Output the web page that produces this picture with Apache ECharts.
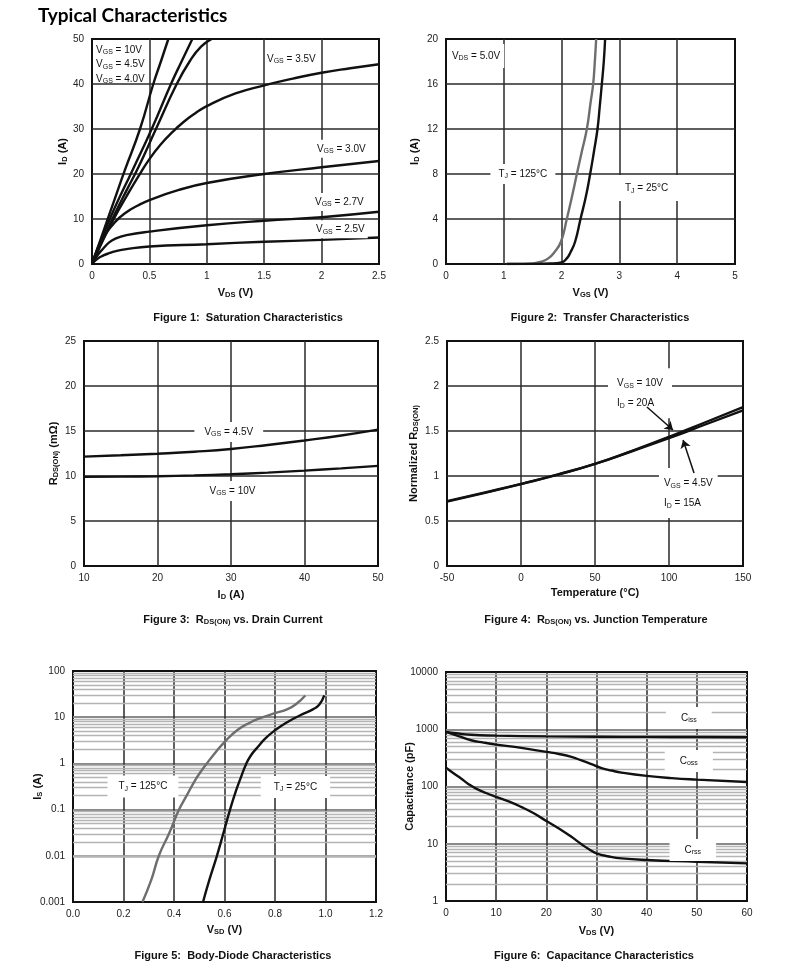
<!DOCTYPE html>
<html>
<head>
<meta charset="utf-8">
<title>Typical Characteristics</title>
<script src="https://cdn.jsdelivr.net/npm/echarts@6/dist/echarts.min.js"></script>
<style>
  html, body { margin: 0; padding: 0; background: #fff; }
  #main { width: 790px; height: 977px; }
</style>
</head>
<body>
<div id="main"></div>
<script>
// ---- Figure 1: saturation characteristics, [VDS (V), ID (A)]
const sat10V = [[0, 0], [0.1, 7.3], [0.2, 14.6], [0.287, 20.9], [0.418, 30], [0.534, 40], [0.6, 45], [0.665, 50]];
const sat45V = [[0, 0], [0.1, 6.6], [0.2, 12.6], [0.354, 20.9], [0.52, 30], [0.688, 40], [0.78, 45], [0.874, 50]];
const sat40V = [[0, 0], [0.1, 5.7], [0.2, 11.2], [0.3, 16.3], [0.404, 21.5], [0.557, 30], [0.738, 40], [0.85, 45], [0.95, 48.3], [1.043, 50]];
const sat35V = [[0, 0], [0.1, 5.5], [0.2, 10.5], [0.3, 15], [0.4, 19.3], [0.5, 23.3], [0.6, 26.6], [0.7, 29.3], [0.8, 31.6], [0.9, 33.5], [1, 35.1], [1.25, 37.9], [1.5, 39.7], [1.75, 41.2], [2, 42.5], [2.25, 43.5], [2.5, 44.4]];
const sat30V = [[0, 0], [0.05, 3.5], [0.1, 6], [0.2, 9.3], [0.3, 11.5], [0.4, 13], [0.5, 14.2], [0.75, 16.4], [1, 18], [1.5, 20], [2, 21.5], [2.5, 22.9]];
const sat27V = [[0, 0], [0.05, 2], [0.1, 3.5], [0.15, 4.8], [0.2, 5.6], [0.3, 6.4], [0.5, 7.2], [1, 8.6], [1.5, 9.6], [2, 10.4], [2.5, 11.6]];
const sat25V = [[0, 0], [0.05, 1.2], [0.1, 1.9], [0.15, 2.4], [0.2, 2.8], [0.3, 3.3], [0.5, 3.9], [1, 4.4], [1.5, 4.95], [2, 5.35], [2.5, 5.9]];

// ---- Figure 2: transfer characteristics, [VGS (V), ID (A)]
const trans125 = [[1.05, 0], [1.3, 0.01], [1.5, 0.06], [1.65, 0.2], [1.77, 0.5], [1.87, 1], [1.99, 2], [2.09, 4], [2.18, 6], [2.264, 8], [2.35, 10], [2.437, 12], [2.5, 14.3], [2.546, 16], [2.575, 18], [2.598, 20]];
const trans25 = [[1.05, 0], [1.5, 0.01], [1.8, 0.04], [2.0, 0.15], [2.09, 0.5], [2.15, 1], [2.235, 2], [2.327, 4], [2.42, 6], [2.494, 8], [2.56, 10], [2.621, 12], [2.66, 14], [2.696, 16], [2.73, 18], [2.753, 20]];

// ---- Figure 3: RDS(ON) vs drain current, [ID (A), mOhm]
const rds45V = [[10, 12.15], [15, 12.3], [20, 12.48], [25, 12.7], [30, 13.0], [35, 13.45], [40, 13.95], [45, 14.5], [50, 15.15]];
const rds10V = [[10, 9.9], [15, 9.93], [20, 9.98], [25, 10.07], [30, 10.2], [35, 10.38], [40, 10.6], [45, 10.85], [50, 11.12]];

// ---- Figure 4: normalized RDS(ON) vs temperature, [degC, ratio]
const norm10V = [[-50, 0.715], [-25, 0.81], [0, 0.91], [25, 1.015], [50, 1.135], [75, 1.28], [100, 1.435], [125, 1.6], [150, 1.765]];
const norm45V = [[-50, 0.72], [-25, 0.815], [0, 0.912], [25, 1.018], [50, 1.135], [75, 1.275], [100, 1.42], [125, 1.575], [150, 1.73]];

// ---- Figure 5: body diode, [VSD (V), IS (A)]
const diode125 = [[0.275, 0.001], [0.31, 0.003], [0.34, 0.01], [0.38, 0.03], [0.42, 0.1], [0.45, 0.2], [0.48, 0.4], [0.505, 0.65], [0.53, 1], [0.565, 1.75], [0.6, 2.9], [0.65, 5.2], [0.7, 7.6], [0.75, 9.9], [0.8, 12.2], [0.85, 15], [0.885, 19.5], [0.92, 29.5]];
const diode25 = [[0.515, 0.001], [0.54, 0.003], [0.57, 0.01], [0.595, 0.03], [0.622, 0.1], [0.645, 0.25], [0.665, 0.5], [0.685, 0.95], [0.705, 1.5], [0.73, 2.2], [0.76, 3.4], [0.8, 5.2], [0.85, 7.9], [0.9, 11], [0.95, 14.8], [0.975, 18.5], [0.995, 29.5]];

// ---- Figure 6: capacitance, [VDS (V), pF]
const ciss = [[0, 900], [2, 850], [5, 800], [10, 775], [20, 750], [30, 740], [40, 735], [50, 730], [60, 725]];
const coss = [[0, 900], [2.5, 760], [5, 643], [7.5, 585], [10, 540], [15, 472], [20, 402], [22.5, 370], [25, 329], [27, 285], [29, 245], [31, 210], [33, 190], [35, 175], [40, 153], [45, 140], [50, 132], [60, 120]];
const crss = [[0, 212], [1.5, 170], [3, 138], [4.5, 110], [6, 92], [8, 77], [10, 66], [12.5, 55], [15, 44], [17.5, 34], [20, 25], [22.5, 18.5], [25, 13.2], [27, 9.8], [28.5, 8], [30, 6.8], [32.5, 6], [35, 5.55], [40, 5.2], [50, 4.85], [60, 4.54]];

const FONT = '"Liberation Sans", Arial, sans-serif';
const INK = '#111';
const GRAY = '#6e6e6e';

// subscripts
const richReg = { s: { fontFamily: FONT, fontSize: 7, lineHeight: 8, padding: [5, 0, 0, 0], color: INK } };
const richBold = { s: { fontFamily: FONT, fontSize: 7.5, fontWeight: 'bold', lineHeight: 8, padding: [5, 0, 0, 0], color: INK } };

const grids = [
  { left: 92, top: 39, width: 287, height: 225 },
  { left: 446, top: 39, width: 289, height: 225 },
  { left: 84, top: 341, width: 294, height: 225 },
  { left: 447, top: 341, width: 296, height: 225 },
  { left: 73, top: 671, width: 303, height: 231 },
  { left: 446, top: 672, width: 301, height: 229 }
].map(g => Object.assign({ show: true, borderColor: INK, borderWidth: 2, backgroundColor: '#fff', outerBoundsMode: 'none' }, g));

function nameStyle() {
  return { fontFamily: FONT, fontSize: 11, fontWeight: 'bold', color: INK, rich: richBold };
}

function xAx(gi, min, max, interval, name, gap, fmt) {
  return {
    type: 'value', gridIndex: gi, min: min, max: max, interval: interval,
    name: name, nameLocation: 'middle', nameGap: gap, nameMoveOverlap: false, nameTextStyle: nameStyle(),
    axisLine: { show: false }, axisTick: { show: false },
    axisLabel: { fontFamily: FONT, fontSize: 10, color: '#222', margin: 7, formatter: fmt },
    splitLine: { show: true, showMinLine: false, showMaxLine: false, lineStyle: { color: '#2a2a2a', width: 1.5 } }
  };
}

function yAx(gi, min, max, interval, name, gap, fmt) {
  return {
    type: 'value', gridIndex: gi, min: min, max: max, interval: interval,
    name: name, nameLocation: 'middle', nameGap: gap, nameRotate: 90, nameMoveOverlap: false, nameTextStyle: nameStyle(),
    axisLine: { show: false }, axisTick: { show: false },
    axisLabel: { fontFamily: FONT, fontSize: 10, color: '#222', margin: 8, formatter: fmt },
    splitLine: { show: true, showMinLine: false, showMaxLine: false, lineStyle: { color: '#2a2a2a', width: 1.5 } }
  };
}

function logAx(gi, min, max, name, gap) {
  return {
    type: 'log', logBase: 10, gridIndex: gi, min: min, max: max,
    name: name, nameLocation: 'middle', nameGap: gap, nameRotate: 90, nameMoveOverlap: false, nameTextStyle: nameStyle(),
    axisLine: { show: false }, axisTick: { show: false },
    axisLabel: { fontFamily: FONT, fontSize: 10, color: '#222', margin: 8, formatter: v => String(+(+v).toPrecision(3)) },
    splitLine: { show: true, showMinLine: false, showMaxLine: false, lineStyle: { color: '#8a8a8a', width: 2 } }
  };
}

function curve(gi, data, color) {
  return {
    type: 'line', xAxisIndex: gi, yAxisIndex: gi, data: data,
    smooth: 0.5, symbol: 'none', silent: true, z: 3,
    lineStyle: { color: color || INK, width: 2.4 }
  };
}

// light horizontal lines at 2..9 of every decade
function minorGrid(gi, lo, hi) {
  const vals = [];
  for (let d = lo; d < hi * 0.999; d *= 10) {
    for (let k = 2; k <= 9; k++) vals.push({ yAxis: +(k * d).toPrecision(3) });
  }
  return {
    type: 'line', xAxisIndex: gi, yAxisIndex: gi, data: [], z: 1, silent: true,
    markLine: {
      silent: true, symbol: 'none', z: 1, animation: false, label: { show: false },
      lineStyle: { color: '#b4b4b4', width: 1.3, type: 'solid' }, data: vals
    }
  };
}

// text annotations placed in data coordinates
function notes(gi, items) {
  return {
    type: 'scatter', xAxisIndex: gi, yAxisIndex: gi, symbolSize: 0, silent: true, z: 5,
    itemStyle: { opacity: 1 },
    emphasis: { disabled: true },
    data: items.map(it => ({
      value: [it.x, it.y],
      label: {
        show: true, position: [0, 0], formatter: it.text, opacity: 1,
        align: it.align || 'center', verticalAlign: 'middle',
        fontFamily: FONT, fontSize: 10, color: INK, lineHeight: it.lh || 14,
        backgroundColor: it.bg ? '#fff' : 'transparent', padding: it.pad || 0,
        rich: richReg
      }
    }))
  };
}

function caption(text, cx, top) {
  return {
    text: text, left: cx, top: top, textAlign: 'center', padding: 0,
    textStyle: { fontFamily: FONT, fontSize: 11, fontWeight: 'bold', color: INK, rich: richBold }
  };
}

const option = {
  animation: false,
  backgroundColor: '#fff',
  textStyle: { fontFamily: FONT },
  title: [
    { text: 'Typical Characteristics', left: 38, top: 6, padding: 0,
      textStyle: { fontFamily: 'Lato', fontSize: 19, fontWeight: 'bold', color: '#000' } },
    caption('Figure 1:  Saturation Characteristics', 248, 312),
    caption('Figure 2:  Transfer Characteristics', 600, 312),
    caption('Figure 3:  R{s|DS(ON)} vs. Drain Current', 233, 614),
    caption('Figure 4:  R{s|DS(ON)} vs. Junction Temperature', 596, 614),
    caption('Figure 5:  Body-Diode Characteristics', 233, 950),
    caption('Figure 6:  Capacitance Characteristics', 594, 950)
  ],
  grid: grids,
  xAxis: [
    xAx(0, 0, 2.5, 0.5, 'V{s|DS} (V)', 23),
    xAx(1, 0, 5, 1, 'V{s|GS} (V)', 23),
    xAx(2, 10, 50, 10, 'I{s|D} (A)', 23),
    xAx(3, -50, 150, 50, 'Temperature (°C)', 21),
    xAx(4, 0, 1.2, 0.2, 'V{s|SD} (V)', 22, v => v.toFixed(1)),
    xAx(5, 0, 60, 10, 'V{s|DS} (V)', 24)
  ],
  yAxis: [
    yAx(0, 0, 50, 10, 'I{s|D} (A)', 24),
    yAx(1, 0, 20, 4, 'I{s|D} (A)', 26),
    yAx(2, 0, 25, 5, 'R{s|DS(ON)} (mΩ)', 25),
    yAx(3, 0, 2.5, 0.5, 'Normalized R{s|DS(ON)}', 28),
    logAx(4, 0.001, 100, 'I{s|S} (A)', 30),
    logAx(5, 1, 10000, 'Capacitance (pF)', 31)
  ],
  series: [
    // Figure 1
    curve(0, sat10V), curve(0, sat45V), curve(0, sat40V), curve(0, sat35V),
    curve(0, sat30V), curve(0, sat27V), curve(0, sat25V),
    notes(0, [
      { x: 0.035, y: 47.6, text: 'V{s|GS} = 10V', align: 'left' },
      { x: 0.035, y: 44.4, text: 'V{s|GS} = 4.5V', align: 'left' },
      { x: 0.035, y: 41.1, text: 'V{s|GS} = 4.0V', align: 'left' },
      { x: 1.524, y: 45.6, text: 'V{s|GS} = 3.5V', align: 'left' },
      { x: 1.933, y: 25.6, text: 'V{s|GS} = 3.0V', align: 'left', bg: true, pad: [2, 3] },
      { x: 1.916, y: 13.8, text: 'V{s|GS} = 2.7V', align: 'left', bg: true, pad: [2, 3] },
      { x: 1.925, y: 7.7, text: 'V{s|GS} = 2.5V', align: 'left', bg: true, pad: [2, 3] }
    ]),
    // Figure 2
    curve(1, trans125, GRAY), curve(1, trans25),
    notes(1, [
      { x: 0.52, y: 18.5, text: 'V{s|DS} = 5.0V', bg: true, pad: [5, 4] },
      { x: 1.33, y: 8.0, text: 'T{s|J} = 125°C', bg: true, pad: [3, 8] },
      { x: 3.47, y: 6.75, text: 'T{s|J} = 25°C', bg: true, pad: [6, 10] }
    ]),
    // Figure 3
    curve(2, rds45V), curve(2, rds10V),
    notes(2, [
      { x: 29.7, y: 14.9, text: 'V{s|GS} = 4.5V', bg: true, pad: [3, 10] },
      { x: 30.2, y: 8.33, text: 'V{s|GS} = 10V', bg: true, pad: [3, 3] }
    ]),
    // Figure 4
    curve(3, norm10V), curve(3, norm45V),
    notes(3, [
      { x: 58.8, y: 1.92, text: 'V{s|GS} = 10V\nI{s|D} = 20A', align: 'left', bg: true, pad: [5, 9], lh: 20 },
      { x: 93.2, y: 0.81, text: 'V{s|GS} = 4.5V\nI{s|D} = 15A', align: 'left', bg: true, pad: [5, 5], lh: 20 }
    ]),
    {
      type: 'line', xAxisIndex: 3, yAxisIndex: 3, data: [], z: 6, silent: true,
      markLine: {
        silent: true, z: 6, animation: false, symbol: ['none', 'arrow'], symbolSize: 8,
        label: { show: false }, lineStyle: { color: INK, width: 1.5, type: 'solid' },
        data: [
          [{ coord: [85.1, 1.767] }, { coord: [102.7, 1.511] }],
          [{ coord: [116.9, 1.033] }, { coord: [109.5, 1.4] }]
        ]
      }
    },
    // Figure 5
    minorGrid(4, 0.001, 100),
    curve(4, diode125, GRAY), curve(4, diode25),
    notes(4, [
      { x: 0.277, y: 0.316, text: 'T{s|J} = 125°C', bg: true, pad: [4, 11] },
      { x: 0.881, y: 0.31, text: 'T{s|J} = 25°C', bg: true, pad: [4, 13] }
    ]),
    // Figure 6
    minorGrid(5, 1, 10000),
    curve(5, ciss), curve(5, coss), curve(5, crss),
    notes(5, [
      { x: 48.4, y: 1573, text: 'C{s|iss}', bg: true, pad: [4, 15] },
      { x: 48.4, y: 279, text: 'C{s|oss}', bg: true, pad: [4, 15] },
      { x: 49.2, y: 7.78, text: 'C{s|rss}', bg: true, pad: [4, 15] }
    ])
  ]
};

const chart = echarts.init(document.getElementById('main'), null, { renderer: 'canvas' });
chart.setOption(option);
</script>
</body>
</html>
